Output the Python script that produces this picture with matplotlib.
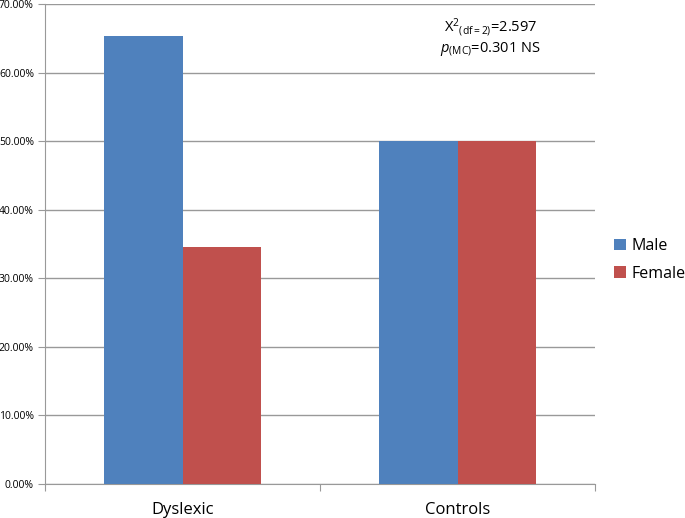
import matplotlib
matplotlib.use("Agg")
import matplotlib.pyplot as plt
import numpy as np

groups = ["Dyslexic", "Controls"]
male = [65.4, 50.0]
female = [34.6, 50.0]
yticks = [0, 10, 20, 30, 40, 50, 60, 70]

plt.rcParams['font.family'] = ['Open Sans', 'DejaVu Sans']
plt.rcParams['mathtext.fontset'] = 'custom'
plt.rcParams['mathtext.rm'] = 'Open Sans'
plt.rcParams['mathtext.it'] = 'Open Sans:italic'

fig = plt.figure(figsize=(6.85, 5.18), dpi=100)
ax = fig.add_axes([45/685, 1 - 484/518, 550/685, 480/518])

x = np.arange(len(groups))
w = 0.287
ax.bar(x - w/2, male, w, color="#4F81BD", label="Male", zorder=3)
ax.bar(x + w/2, female, w, color="#C0504D", label="Female", zorder=3)

ax.set_xlim(-0.5, 1.5)
ax.set_ylim(0, 70)
ax.set_yticks(yticks)
ax.set_yticklabels([f"{v:.2f}%" for v in yticks], fontsize=7.5)
ax.yaxis.grid(True, color="#999999", linewidth=1, zorder=0)
ax.tick_params(axis="y", length=5, color="#999999", pad=3)

ax.set_xticks([-0.5, 0.5, 1.5])
ax.set_xticklabels([])
ax.set_xticks(x, minor=True)
ax.set_xticklabels(groups, minor=True, fontsize=12)
ax.tick_params(axis="x", which="major", length=5, color="#999999")
ax.tick_params(axis="x", which="minor", length=0, pad=13)

for s in ["top", "right"]:
    ax.spines[s].set_visible(False)
for s in ["left", "bottom"]:
    ax.spines[s].set_color("#999999")

ax.text(1.12, 66.6, r"X$^{2}$$_{\mathregular{(df=2)}}$=2.597", ha="center", va="center", fontsize=10.5)
ax.text(1.12, 63.4, r"$\it{p}$$_{\mathregular{(MC)}}$=0.301 NS", ha="center", va="center", fontsize=10.5)

fig.legend(loc="center left", bbox_to_anchor=(600/685, 1 - 260/518), frameon=False,
           fontsize=11.5, handlelength=0.7, handleheight=0.7, handletextpad=0.4, labelspacing=0.7)

fig.savefig("out.png", dpi=100)
